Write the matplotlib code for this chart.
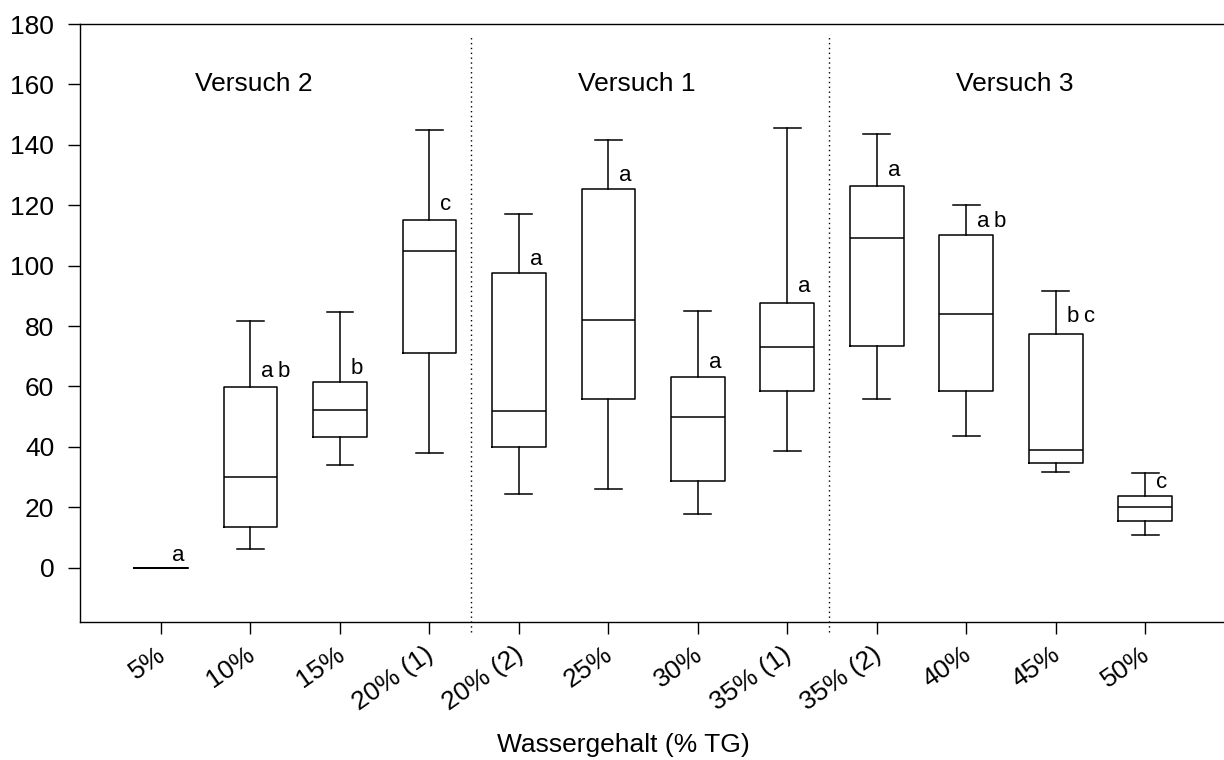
import matplotlib
matplotlib.use("Agg")
from matplotlib import pyplot as plt
from matplotlib.transforms import ScaledTranslation

plt.rcParams['font.family'] = ['Liberation Sans', 'DejaVu Sans']

# Wassergehalt groups and box statistics
labels = ["5%", "10%", "15%", "20% (1)", "20% (2)", "25%", "30%",
          "35% (1)", "35% (2)", "40%", "45%", "50%"]
whislo = [0, 6.3, 34.1, 37.8, 24.3, 26.2, 17.8, 38.5, 56.0, 43.5, 31.7, 10.9]
q1 = [0, 13.3, 43.3, 71.1, 40.0, 56.0, 28.6, 58.5, 73.5, 58.5, 34.6, 15.3]
med = [0, 30.1, 52.2, 104.7, 52.0, 82.0, 50.0, 73.0, 109.0, 84.0, 39.0, 20.0]
q3 = [0, 59.9, 61.4, 115.0, 97.5, 125.5, 63.0, 87.5, 126.5, 110.0, 77.5, 23.8]
whishi = [0, 81.8, 84.8, 145.0, 117.0, 141.5, 85.0, 145.5, 143.5, 120.0, 91.5, 31.2]

letters = ["a", "a\u2009b", "b", "c", "a", "a", "a", "a", "a", "a\u2009b", "b\u2009c", "c"]
letter_y = [4.0, 65.0, 66.0, 120.4, 102.0, 130.0, 68.0, 93.0, 131.5, 114.5, 83.0, 28.2]

groups = ["Versuch 2", "Versuch 1", "Versuch 3"]
group_x = [2.04, 6.32, 10.54]
group_y = 160
separators = [4.46, 8.47]

fig = plt.figure(figsize=(12.24, 7.6), dpi=100)
ax = fig.add_axes([80 / 1224, 1 - 622 / 760, 1 - 80 / 1224, (622 - 24) / 760])

stats = []
for i in range(len(labels)):
    stats.append(dict(whislo=whislo[i], q1=q1[i], med=med[i], q3=q3[i],
                      whishi=whishi[i], fliers=[]))
pos = list(range(1, len(labels) + 1))
lp = dict(color="black", linewidth=1.1)
ax.bxp(stats, positions=pos, widths=0.6, showfliers=False,
       boxprops=lp, medianprops=lp, whiskerprops=lp, capprops=lp,
       capwidths=0.3)

for p, t, y in zip(pos, letters, letter_y):
    ax.text(p + 0.12, y, t, fontsize=16, ha="left", va="center")

for g, x in zip(groups, group_x):
    ax.text(x, group_y, g, fontsize=19, ha="center", va="center")

for s in separators:
    ax.plot([s, s], [-21.3, 175.7], color="black", linestyle=(0, (1, 2.5)),
            linewidth=1.0, clip_on=False)

ax.set_xlim(0.095, 12.88)
ax.set_ylim(-18, 180)
ax.set_yticks(range(0, 181, 20))
ax.set_xticks(pos)
ax.set_xticklabels(labels, rotation=35, ha="right", rotation_mode="anchor")
ax.tick_params(axis="both", direction="out", length=8.6, width=1.0,
               labelsize=19, pad=6)
ax.tick_params(axis="y", pad=10)
shift = ScaledTranslation(-5 / 100, 0, fig.dpi_scale_trans)
for lab in ax.get_xticklabels():
    lab.set_transform(lab.get_transform() + shift)
ax.spines["right"].set_visible(False)
for sp in ["left", "top", "bottom"]:
    ax.spines[sp].set_linewidth(1.0)

fig.text(623 / 1224, 1 - 745 / 760, "Wassergehalt (% TG)", fontsize=19,
         ha="center", va="center")

fig.savefig("out.png", dpi=100)
